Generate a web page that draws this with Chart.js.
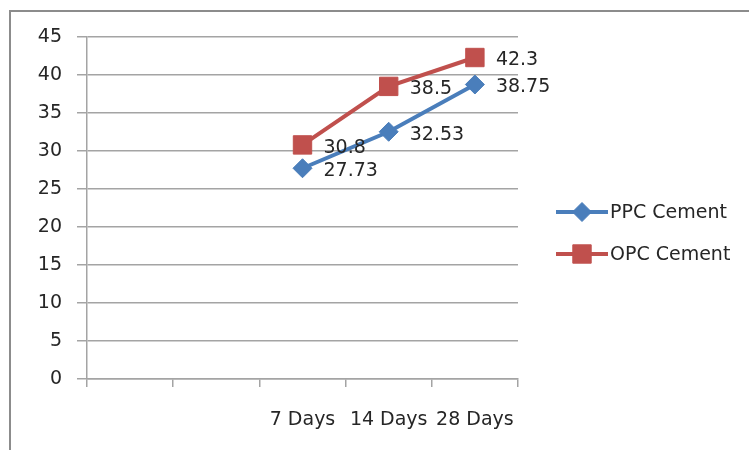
<!DOCTYPE html>
<html>
<head>
<meta charset="utf-8">
<title>Compressive strength: PPC vs OPC cement</title>
<script src="https://cdn.jsdelivr.net/npm/chart.js@4/dist/chart.umd.min.js"></script>
<style>
  html, body { margin: 0; padding: 0; background: #ffffff; }
  #wrap { width: 749px; height: 450px; }
</style>
</head>
<body>
<div id="wrap"><canvas id="chart" width="749" height="450"></canvas></div>
<script>
// Curing ages (the first two category slots are left empty)
const categories = ['', '', '7 Days', '14 Days', '28 Days'];
// Strength values for each cement type
const ppcValues = [null, null, 27.73, 32.53, 38.75];
const opcValues = [null, null, 30.8, 38.5, 42.3];
// Value axis
const yMin = 0;
const yMax = 45;
const yStep = 5;
const seriesNames = ['PPC Cement', 'OPC Cement'];

const FONT = { family: '"DejaVu Sans", sans-serif', size: 19 };
const TEXT = '#262626';
const GRID = '#a4a4a4';

// White background plus the gray frame around the chart
const framePlugin = {
  id: 'frame',
  beforeDraw(chart) {
    const ctx = chart.ctx;
    ctx.save();
    ctx.fillStyle = '#ffffff';
    ctx.fillRect(0, 0, chart.width, chart.height);
    ctx.strokeStyle = '#8c8c8c';
    ctx.lineWidth = 2;
    ctx.strokeRect(10, 11, chart.width + 20, chart.height + 20);
    ctx.restore();
  }
};

// Value labels to the right of every point
const valueLabelPlugin = {
  id: 'valueLabels',
  afterDatasetsDraw(chart) {
    const ctx = chart.ctx;
    ctx.save();
    ctx.font = `${FONT.size}px ${FONT.family}`;
    ctx.fillStyle = TEXT;
    ctx.textAlign = 'left';
    ctx.textBaseline = 'middle';
    chart.data.datasets.forEach((ds, i) => {
      const meta = chart.getDatasetMeta(i);
      meta.data.forEach((pt, j) => {
        const v = ds.data[j];
        if (v === null || v === undefined) return;
        ctx.fillText(String(v), pt.x + 21, pt.y + 3);
      });
    });
    ctx.restore();
  }
};

// Legend: line segment with marker, then the series name
const lineLegendPlugin = {
  id: 'lineLegend',
  afterDraw(chart) {
    const ctx = chart.ctx;
    const x0 = 556, x1 = 608, yTop = 212, gap = 42;
    ctx.save();
    chart.data.datasets.forEach((ds, i) => {
      const y = yTop + i * gap;
      ctx.strokeStyle = ds.borderColor;
      ctx.lineWidth = ds.borderWidth;
      ctx.beginPath();
      ctx.moveTo(x0, y);
      ctx.lineTo(x1, y);
      ctx.stroke();
      ctx.fillStyle = ds.pointBackgroundColor;
      ctx.strokeStyle = ds.pointBorderColor;
      ctx.lineWidth = 1;
      Chart.helpers.drawPoint(ctx, {
        pointStyle: ds.pointStyle,
        radius: ds.pointRadius,
        borderWidth: 1,
        rotation: 0
      }, (x0 + x1) / 2, y);
      ctx.font = `${FONT.size}px ${FONT.family}`;
      ctx.fillStyle = TEXT;
      ctx.textAlign = 'left';
      ctx.textBaseline = 'middle';
      ctx.fillText(ds.label, x1 + 2, y + 1);
    });
    ctx.restore();
  }
};

new Chart(document.getElementById('chart'), {
  type: 'line',
  data: {
    labels: categories,
    datasets: [
      {
        label: seriesNames[0],
        data: ppcValues,
        borderColor: '#4a7ebb',
        backgroundColor: '#4a7ebb',
        borderWidth: 4,
        pointStyle: 'rectRot',
        pointRadius: 9.5,
        pointBackgroundColor: '#4a7ebb',
        pointBorderColor: '#4a7ebb',
        pointBorderWidth: 1,
        tension: 0,
        spanGaps: false
      },
      {
        label: seriesNames[1],
        data: opcValues,
        borderColor: '#c0504d',
        backgroundColor: '#c0504d',
        borderWidth: 4,
        pointStyle: 'rect',
        pointRadius: 13,
        pointBackgroundColor: '#c0504d',
        pointBorderColor: '#c0504d',
        pointBorderWidth: 1,
        tension: 0,
        spanGaps: false
      }
    ]
  },
  options: {
    responsive: false,
    animation: false,
    events: [],
    layout: { padding: { left: 0, top: 37, right: 231, bottom: 0 } },
    plugins: {
      legend: { display: false },
      tooltip: { enabled: false },
      title: { display: false }
    },
    scales: {
      x: {
        type: 'category',
        offset: true,
        grid: {
          offset: true,
          drawOnChartArea: false,
          drawTicks: true,
          tickLength: 8,
          color: GRID,
          lineWidth: 1.5
        },
        border: { display: true, color: GRID, width: 1.5 },
        ticks: {
          font: FONT,
          color: TEXT,
          padding: 22,
          maxRotation: 0,
          autoSkip: false
        },
        afterFit(scale) { scale.height = 71; }
      },
      y: {
        min: yMin,
        max: yMax,
        grid: { color: GRID, lineWidth: 1.5, tickLength: 10 },
        border: { display: true, color: GRID, width: 1.5 },
        ticks: {
          stepSize: yStep,
          font: FONT,
          color: TEXT,
          padding: 15
        },
        afterFit(scale) { scale.width = 87; }
      }
    }
  },
  plugins: [framePlugin, valueLabelPlugin, lineLegendPlugin]
});
</script>
</body>
</html>
